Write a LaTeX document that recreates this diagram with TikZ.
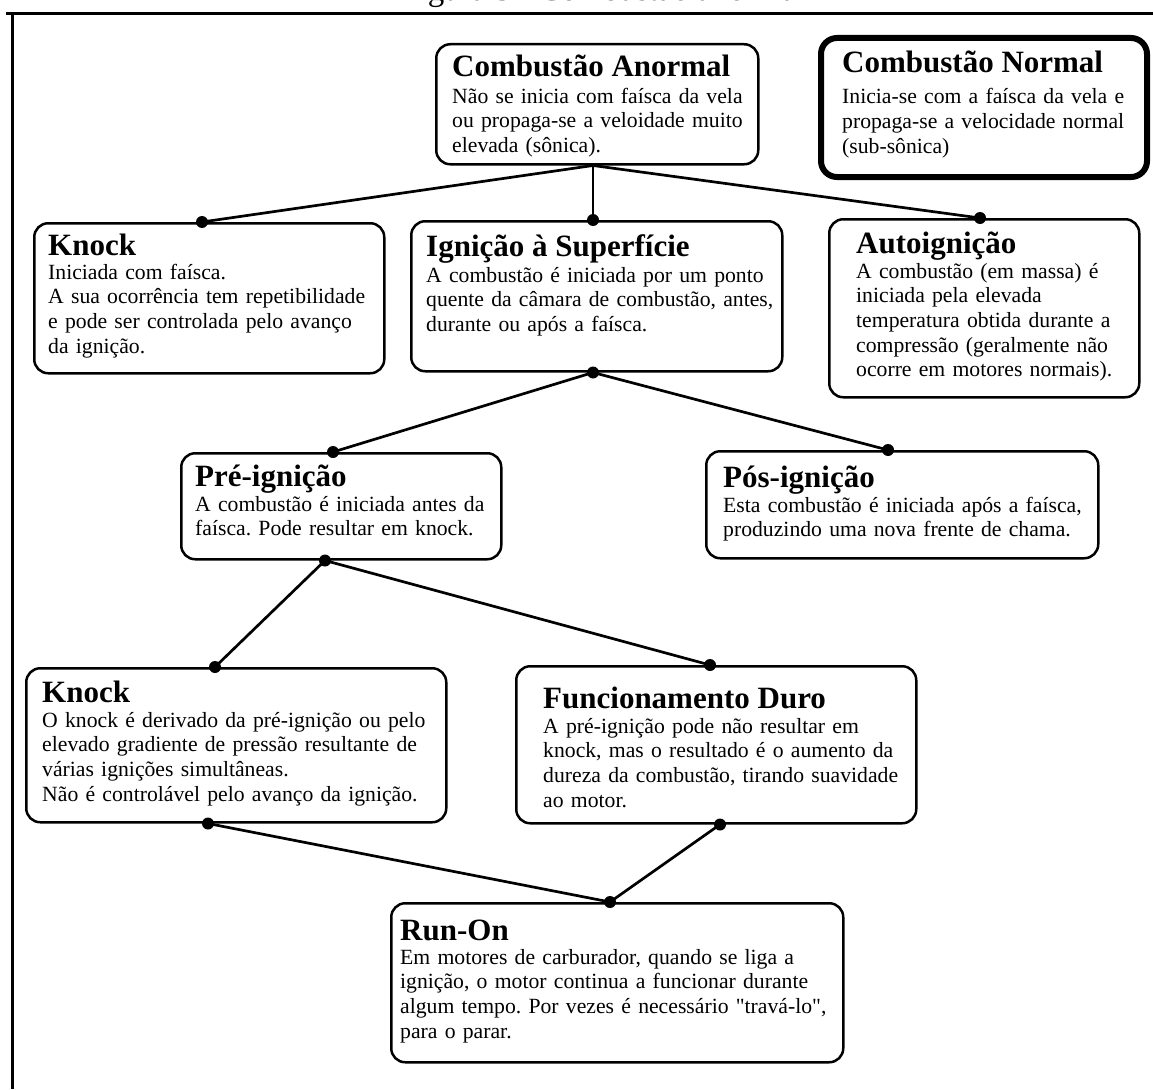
\documentclass[tikz,border=0pt]{standalone}
\usepackage{fontspec}
\setmainfont{Liberation Serif}
\tikzset{
  box/.style={draw, line width=2.5pt, rounded corners=14pt, anchor=north west, inner sep=0pt, fill=white},
  thickbox/.style={box, line width=6pt, rounded corners=16pt},
  hd/.style={anchor=base west, inner sep=0pt, font=\fontsize{31}{31}\selectfont\bfseries},
  bd/.style={anchor=base west, inner sep=0pt, align=left, text width=460pt, font=\fontsize{21.7}{24.7}\selectfont\frenchspacing},
  conn/.style={line width=2.7pt},
  jdot/.style={circle, fill=black, inner sep=0pt, minimum size=12pt},
}
\begin{document}
\begin{tikzpicture}[x=1pt,y=-1pt]
\useasboundingbox (0,0) rectangle (1153,1089);
\clip (0,0) rectangle (1153,1089);
% caption (clipped at the top edge, as in the reference)
\node[anchor=base, inner sep=0pt, font=\fontsize{33}{33}\selectfont] (cap) at (603,1) {Figura 3 - Combustão anormal};
% frame
\coordinate (f1) at (6,14); \coordinate (f2) at (1153,14); \coordinate (f0) at (12,14); \coordinate (f3) at (12,1089);
\draw[line width=3pt] (f1) -- (f2);
\draw[line width=3pt] (f0) -- (f3);

% boxes
\node[box, minimum width=322pt, minimum height=120pt] (A) at (435,43) {};
\node[thickbox, minimum width=326pt, minimum height=139pt] (N) at (818,35) {};
\node[box, minimum width=350pt, minimum height=150pt] (K1) at (33,222) {};
\node[box, minimum width=371pt, minimum height=150pt] (I) at (410,220) {};
\node[box, minimum width=310pt, minimum height=178pt] (Au) at (828,218) {};
\node[box, minimum width=320pt, minimum height=106pt] (P) at (180,452) {};
\node[box, minimum width=392pt, minimum height=107pt] (Pos) at (705,450) {};
\node[box, minimum width=420pt, minimum height=154pt] (K2) at (25,667) {};
\node[box, minimum width=400pt, minimum height=157pt] (F) at (515,665) {};
\node[box, minimum width=452pt, minimum height=159pt] (R) at (390,902) {};

% texts
\node[hd] (Ah) at (452,77) {Combustão Anormal};
\node[bd] (Ab) at (452,103) {Não se inicia com faísca da vela\\ou propaga-se a veloidade muito\\elevada (sônica).};
\node[hd] (Nh) at (842,73) {Combustão Normal};
\node[bd] (Nb) at (842,104) {Inicia-se com a faísca da vela e\\propaga-se a velocidade normal\\(sub-sônica)};
\node[hd] (K1h) at (48,255) {Knock};
\node[bd] (K1b) at (48,279) {Iniciada com faísca.\\A sua ocorrência tem repetibilidade\\e pode ser controlada pelo avanço\\da ignição.};
\node[hd] (Ih) at (426,256) {Ignição à Superfície};
\node[bd] (Ib) at (426,282) {A combustão é iniciada por um ponto\\quente da câmara de combustão, antes,\\durante ou após a faísca.};
\node[hd] (Auh) at (856,253) {Autoignição};
\node[bd] (Aub) at (856,278) {A combustão (em massa) é\\iniciada pela elevada\\temperatura obtida durante a\\compressão (geralmente não\\ocorre em motores normais).};
\node[hd] (Ph) at (195,486) {Pré-ignição};
\node[bd] (Pb) at (195,511) {A combustão é iniciada antes da\\faísca. Pode resultar em knock.};
\node[hd] (Posh) at (723,487) {Pós-ignição};
\node[bd] (Posb) at (723,512) {Esta combustão é iniciada após a faísca,\\produzindo uma nova frente de chama.};
\node[hd] (K2h) at (42,702) {Knock};
\node[bd] (K2b) at (42,727) {O knock é derivado da pré-ignição ou pelo\\elevado gradiente de pressão resultante de\\várias ignições simultâneas.\\Não é controlável pelo avanço da ignição.};
\node[hd] (Fh) at (543,708) {Funcionamento Duro};
\node[bd] (Fb) at (543,733) {A pré-ignição pode não resultar em\\knock, mas o resultado é o aumento da\\dureza da combustão, tirando suavidade\\ao motor.};
\node[hd] (Rh) at (400,940) {Run-On};
\node[bd] (Rb) at (400,964) {Em motores de carburador, quando se liga a\\ignição, o motor continua a funcionar durante\\algum tempo. Por vezes é necessário \textquotedbl travá-lo\textquotedbl,\\para o parar.};

% connection points
\coordinate (Aout) at ([xshift=158pt]A.south west);
\coordinate (K1in) at ([xshift=169pt]K1.north west);
\coordinate (Iin) at ([xshift=183pt]I.north west);
\coordinate (Auin) at ([xshift=152pt]Au.north west);
\coordinate (Iout) at ([xshift=183pt]I.south west);
\coordinate (Pin) at ([xshift=153pt]P.north west);
\coordinate (Posin) at ([xshift=183pt]Pos.north west);
\coordinate (Pout) at ([xshift=145pt]P.south west);
\coordinate (K2in) at ([xshift=190pt]K2.north west);
\coordinate (Fin) at ([xshift=195pt]F.north west);
\coordinate (K2out) at ([xshift=183pt]K2.south west);
\coordinate (Fout) at ([xshift=205pt]F.south west);
\coordinate (Rin) at ([xshift=220pt]R.north west);

\draw[conn] (Aout) -- (K1in);
\draw[conn] (Aout) -- (Iin);
\draw[conn] (Aout) -- (Auin);
\draw[conn] (Iout) -- (Pin);
\draw[conn] (Iout) -- (Posin);
\draw[conn] (Pout) -- (K2in);
\draw[conn] (Pout) -- (Fin);
\draw[conn] (K2out) -- (Rin);
\draw[conn] (Fout) -- (Rin);

\foreach \p in {K1in,Iin,Auin,Iout,Pin,Posin,Pout,K2in,Fin,K2out,Fout,Rin}
  \node[jdot] at (\p) {};
\end{tikzpicture}
\end{document}
